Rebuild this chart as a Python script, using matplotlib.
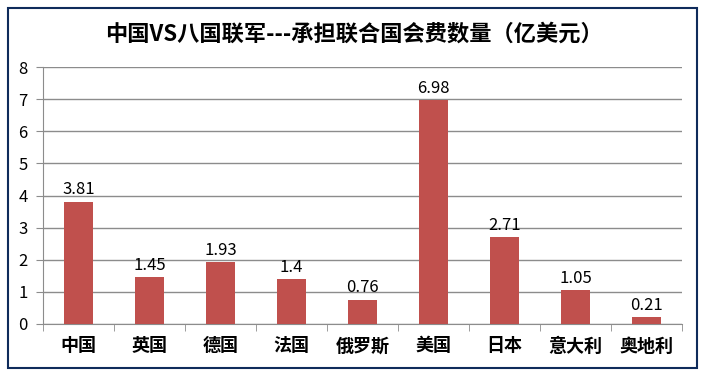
import matplotlib.pyplot as plt
from matplotlib.patches import Rectangle

plt.rcParams['font.family'] = ['Noto Sans CJK SC', 'DejaVu Sans']

countries = ['中国', '英国', '德国', '法国', '俄罗斯', '美国', '日本', '意大利', '奥地利']
values = [3.81, 1.45, 1.93, 1.4, 0.76, 6.98, 2.71, 1.05, 0.21]
value_labels = ['3.81', '1.45', '1.93', '1.4', '0.76', '6.98', '2.71', '1.05', '0.21']

fig = plt.figure(figsize=(7.07, 3.76), dpi=100)
ax = fig.add_axes([0.0608, 0.1383, 0.9038, 0.6835])

# outer chart border
fig.patches.append(Rectangle((8 / 707, 8 / 376), 689 / 707, 360 / 376,
                             transform=fig.transFigure, fill=False,
                             edgecolor='#0F2B5B', linewidth=1.5))

x = range(len(countries))
ax.bar(x, values, width=0.4, color='#C0504D', zorder=3)
for i, v in enumerate(values):
    ax.text(i, v + 0.1, value_labels[i], ha='center', va='bottom', fontsize=12)

ax.set_xlim(-0.5, len(countries) - 0.5)
ax.set_ylim(0, 8)
ax.set_yticks(range(0, 9))
ax.yaxis.grid(True, color='#8C8C8C', linewidth=1, zorder=0)

ax.set_xticks(x)
ax.set_xticklabels(countries, fontsize=13, fontweight='bold')
ax.tick_params(axis='x', length=0, pad=9)
ax.set_xticks([i - 0.5 for i in range(len(countries) + 1)], minor=True)
ax.tick_params(axis='x', which='minor', length=5, color='#8C8C8C')
ax.tick_params(axis='y', length=5, color='#8C8C8C', labelsize=12, pad=6)

for side in ['top', 'right']:
    ax.spines[side].set_visible(False)
for side in ['left', 'bottom']:
    ax.spines[side].set_color('#8C8C8C')

fig.text(0.5, 0.91, '中国VS八国联军---承担联合国会费数量（亿美元）',
         ha='center', va='center', fontsize=16, fontweight='bold')

fig.savefig('out.png', dpi=100)
